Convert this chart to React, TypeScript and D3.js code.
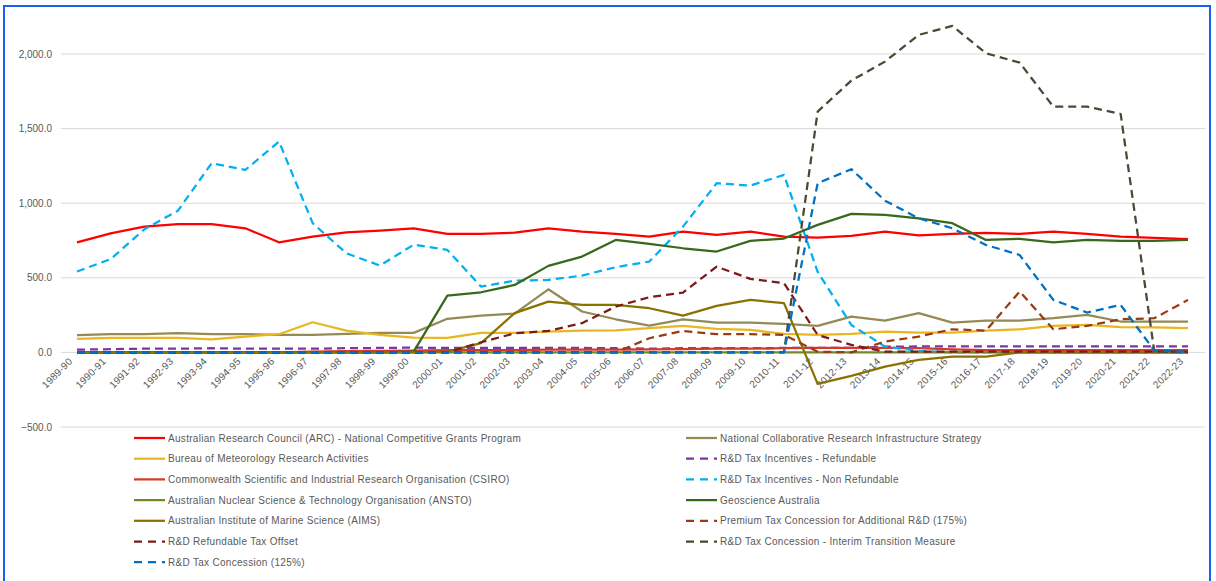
import React from 'react';
import * as d3 from 'd3';

const years = [
  '1989-90', '1990-91', '1991-92', '1992-93', '1993-94', '1994-95', '1995-96', '1996-97',
  '1997-98', '1998-99', '1999-00', '2000-01', '2001-02', '2002-03', '2003-04', '2004-05',
  '2005-06', '2006-07', '2007-08', '2008-09', '2009-10', '2010-11', '2011-12', '2012-13',
  '2013-14', '2014-15', '2015-16', '2016-17', '2017-18', '2018-19', '2019-20', '2020-21',
  '2021-22', '2022-23',
];

const yTicks = [-500, 0, 500, 1000, 1500, 2000];

// values, $m
const arc = [738, 798, 843, 859, 859, 832, 738, 776, 805, 816, 832, 794, 794, 803, 832, 810, 795, 776, 810, 787, 810, 776, 770, 781, 810, 785, 794, 801, 794, 810, 794, 776, 767, 760];
const ncris = [115, 122, 122, 129, 122, 122, 117, 117, 124, 131, 131, 225, 247, 260, 423, 274, 222, 180, 222, 200, 200, 191, 178, 240, 213, 263, 200, 213, 213, 229, 251, 207, 207, 207];
const bom = [90, 97, 97, 97, 88, 106, 122, 202, 146, 117, 99, 97, 131, 131, 140, 146, 148, 162, 178, 158, 151, 124, 117, 124, 140, 133, 133, 146, 155, 178, 184, 169, 167, 162];
const rdRefundable = [18, 22, 25, 25, 28, 25, 25, 25, 28, 30, 32, 30, 30, 30, 30, 30, 28, 25, 28, 28, 28, 30, 30, 30, 38, 40, 40, 40, 40, 40, 40, 40, 40, 40];
const csiro = [0, 0, 0, 0, 0, 0, 0, 5, 8, 10, 12, 15, 15, 15, 18, 18, 18, 20, 22, 25, 25, 28, 30, 30, 30, 28, 20, 15, 15, 15, 15, 15, 15, 15];
const rdNonRefundable = [542, 625, 825, 950, 1268, 1223, 1413, 866, 665, 582, 722, 687, 441, 481, 486, 515, 571, 609, 843, 1134, 1118, 1190, 540, 184, 39, 10, 0, 0, 0, 0, 0, 0, 0, 0];
const ansto = [0, 0, 0, 0, 0, 0, 0, 0, 0, 0, 0, 0, 0, 0, 0, 0, 0, 0, 0, 0, 0, 0, 0, 0, 0, 0, 0, 0, 0, 0, 0, 0, 0, 0];
const geoscience = [0, 0, 0, 0, 0, 0, 0, 0, 0, 0, 5, 381, 403, 452, 580, 642, 754, 727, 698, 676, 747, 763, 855, 928, 922, 899, 866, 754, 761, 738, 754, 747, 747, 754];
const aims = [0, 0, 0, 0, 0, 0, 0, 0, 0, 0, 0, 5, 62, 263, 340, 318, 318, 296, 247, 312, 352, 330, -211, -157, -95, -50, -28, -28, 0, 0, 0, 0, 0, 0];
const premium175 = [0, 0, 0, 0, 0, 0, 0, 0, 0, 0, 0, 0, 0, 0, 0, 0, 0, 95, 144, 122, 122, 117, 5, 0, 73, 106, 155, 146, 408, 155, 178, 222, 229, 352];
const refundableOffset = [0, 0, 0, 0, 0, 0, 0, 0, 0, 0, 0, 0, 68, 128, 144, 196, 307, 370, 401, 575, 493, 464, 117, 50, 5, 5, 5, 5, 5, 5, 5, 5, 5, 5];
const interim = [0, 0, 0, 0, 0, 0, 0, 0, 0, 0, 0, 0, 0, 0, 0, 0, 0, 0, 0, 0, 0, 0, 1614, 1822, 1949, 2128, 2188, 2005, 1942, 1647, 1647, 1598, 5, 0];
const concession125 = [0, 0, 0, 0, 0, 0, 0, 0, 0, 0, 0, 0, 0, 0, 0, 0, 0, 0, 0, 0, 0, 0, 1134, 1228, 1017, 899, 832, 720, 653, 352, 267, 318, 12, 5];

const series = [
  { name: 'Australian Research Council (ARC) - National Competitive Grants Program', values: arc, color: '#FF0000', dashed: false },
  { name: 'National Collaborative Research Infrastructure Strategy', values: ncris, color: '#948A54', dashed: false },
  { name: 'Bureau of Meteorology Research Activities', values: bom, color: '#E9B620', dashed: false },
  { name: 'R&D Tax Incentives - Refundable', values: rdRefundable, color: '#7A35A8', dashed: true },
  { name: 'Commonwealth Scientific and Industrial Research Organisation (CSIRO)', values: csiro, color: '#D13B2A', dashed: false },
  { name: 'R&D Tax Incentives - Non Refundable', values: rdNonRefundable, color: '#00B0F0', dashed: true },
  { name: 'Australian Nuclear Science & Technology Organisation (ANSTO)', values: ansto, color: '#6E8B2A', dashed: false },
  { name: 'Geoscience Australia', values: geoscience, color: '#38691A', dashed: false },
  { name: 'Australian Institute of Marine Science (AIMS)', values: aims, color: '#8A7200', dashed: false },
  { name: 'Premium Tax Concession for Additional R&D (175%)', values: premium175, color: '#9A3C12', dashed: true },
  { name: 'R&D Refundable Tax Offset', values: refundableOffset, color: '#7B1C1C', dashed: true },
  { name: 'R&D Tax Concession - Interim Transition Measure', values: interim, color: '#4D4733', dashed: true },
  { name: 'R&D Tax Concession (125%)', values: concession125, color: '#0070C0', dashed: true },
];

const font = '"Liberation Sans", Arial, sans-serif';

export default function App() {
  const width = 1216;
  const height = 581;

  const x = d3.scalePoint<string>().domain(years).range([77, 1188]);
  const y = d3.scaleLinear().domain([-500, 2000]).range([427, 54]);

  const line = d3
    .line<number>()
    .x((_, i) => x(years[i]) as number)
    .y((d) => y(d));

  return (
    <svg
      width={width}
      height={height}
      style={{ position: 'absolute', left: 0, top: 0, background: '#fff' }}
    >
      <rect x={4} y={6} width={1206} height={620} fill="none" stroke="#1F5FF0" strokeWidth={2} />

      {yTicks.map((t) => (
        <g key={t}>
          <line x1={61} x2={1205} y1={y(t)} y2={y(t)} stroke="#D9D9D9" strokeWidth={1} />
          <text x={52} y={y(t) + 3.5} textAnchor="end" fontFamily={font} fontSize={10} fill="#595959">
            {d3.format(',.1f')(t)}
          </text>
        </g>
      ))}

      {years.map((yr) => (
        <text
          key={yr}
          transform={`translate(${(x(yr) as number) - 4},${362}) rotate(-45)`}
          textAnchor="end"
          fontFamily={font}
          fontSize={10}
          letterSpacing={0.2}
          fill="#595959"
        >
          {yr}
        </text>
      ))}

      {series.map((s) => (
        <path
          key={s.name}
          d={line(s.values) ?? ''}
          fill="none"
          stroke={s.color}
          strokeWidth={2.25}
          strokeDasharray={s.dashed ? '8 5' : undefined}
          strokeLinejoin="round"
        />
      ))}

      {series.map((s, i) => {
        const col = i % 2;
        const row = Math.floor(i / 2);
        const lx = col === 0 ? 134 : 686;
        const ly = 438 + row * 20.7;
        return (
          <g key={'leg' + s.name}>
            <line
              x1={lx}
              x2={lx + 31}
              y1={ly}
              y2={ly}
              stroke={s.color}
              strokeWidth={2.25}
              strokeDasharray={s.dashed ? '8 6' : undefined}
            />
            <text x={lx + 34} y={ly + 3.5} fontFamily={font} fontSize={10} letterSpacing={0.3} fill="#595959">
              {s.name}
            </text>
          </g>
        );
      })}
    </svg>
  );
}
